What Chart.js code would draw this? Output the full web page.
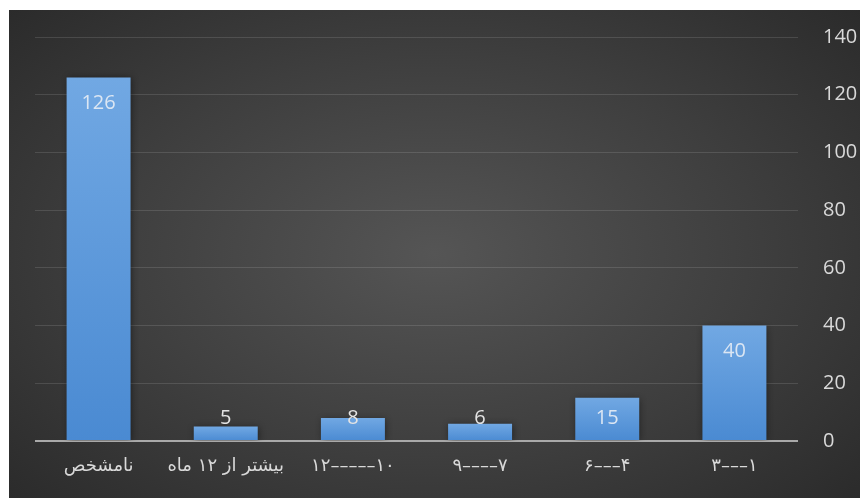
<!DOCTYPE html>
<html>
<head>
<meta charset="utf-8">
<script src="https://cdn.jsdelivr.net/npm/chart.js@4/dist/chart.umd.min.js"></script>
<style>
  html, body { margin: 0; padding: 0; background: #ffffff; }
  #wrap {
    position: absolute; left: 9px; top: 10px; width: 851px; height: 488px;
    background: radial-gradient(ellipse 70% 75% at 50% 50%, #555555 0%, #3e3e3e 55%, #2a2a2a 100%);
  }
  canvas { display: block; }
</style>
</head>
<body>
<div id="wrap"><canvas id="c" width="851" height="488" dir="rtl"></canvas></div>
<script>
// Categories as shown left to right
const categories = ["نامشخص", "بیشتر از ۱۲ ماه", "۱۰–––––۱۲", "۷––––۹", "۴–––۶", "۱–––۳"];
const values = [126, 5, 8, 6, 15, 40];
const yTicks = [0, 20, 40, 60, 80, 100, 120, 140];

const shadowPlugin = {
  id: 'barShadow',
  beforeDatasetsDraw(chart) {
    const ctx = chart.ctx;
    ctx.save();
    ctx.shadowColor = 'rgba(0,0,0,0.45)';
    ctx.shadowBlur = 7;
    ctx.shadowOffsetX = 1;
    ctx.shadowOffsetY = 1;
  },
  afterDatasetsDraw(chart) {
    chart.ctx.restore();
  }
};

const labelPlugin = {
  id: 'valueLabels',
  afterDatasetsDraw(chart) {
    const ctx = chart.ctx;
    const meta = chart.getDatasetMeta(0);
    const bottom = chart.chartArea.bottom;
    ctx.save();
    ctx.font = '20px "Open Sans", "DejaVu Sans", sans-serif';
    ctx.textAlign = 'center';
    ctx.textBaseline = 'middle';
    meta.data.forEach((el, i) => {
      const inside = el.y + 26;
      const y = Math.min(inside, bottom - 23);
      ctx.fillStyle = (y >= el.y + 10) ? '#dbe6f3' : '#e4e4e4';
      ctx.fillText(String(values[i]), el.x, y);
    });
    ctx.restore();
  }
};

new Chart(document.getElementById('c'), {
  type: 'bar',
  data: {
    labels: categories,
    datasets: [{
      data: values,
      backgroundColor: (c) => {
        const chart = c.chart;
        if (!chart.chartArea || !chart.scales.y) return '#5b9bd5';
        const ys = chart.scales.y;
        const top = ys.getPixelForValue(values[c.dataIndex]);
        const bot = ys.getPixelForValue(0);
        const g = chart.ctx.createLinearGradient(0, top, 0, bot);
        g.addColorStop(0, '#71a8e3');
        g.addColorStop(1, '#4a8ad2');
        return g;
      },
      borderWidth: 0,
      categoryPercentage: 1.0,
      barPercentage: 0.503
    }]
  },
  options: {
    responsive: false,
    devicePixelRatio: 1,
    animation: false,
    layout: { padding: { left: 26, top: 27, right: 0, bottom: 0 } },
    plugins: { legend: { display: false }, tooltip: { enabled: false } },
    scales: {
      x: {
        grid: { display: false, drawTicks: false },
        border: { display: false },
        ticks: {
          color: '#d9d9d9',
          font: { family: '"DejaVu Sans", "Open Sans", sans-serif', size: 18 },
          padding: 15,
          maxRotation: 0, autoSkip: false
        },
        afterFit: (s) => { s.height = 57; s.paddingLeft = 0; s.paddingRight = 0; }
      },
      y: {
        position: 'right',
        min: 0, max: 140,
        afterBuildTicks: (s) => { s.ticks = yTicks.map(v => ({ value: v })); },
        grid: {
          drawTicks: false,
          color: (c) => c.tick && c.tick.value === 0 ? '#a9a9a9' : 'rgba(255,255,255,0.12)',
          lineWidth: (c) => c.tick && c.tick.value === 0 ? 2 : 1
        },
        border: { display: false },
        ticks: {
          color: '#d9d9d9',
          font: { family: '"Open Sans", "DejaVu Sans", sans-serif', size: 20 },
          padding: 25
        },
        afterFit: (s) => { s.width = 62; s.paddingTop = 0; s.paddingBottom = 0; }
      }
    }
  },
  plugins: [shadowPlugin, labelPlugin]
});
</script>
</body>
</html>
